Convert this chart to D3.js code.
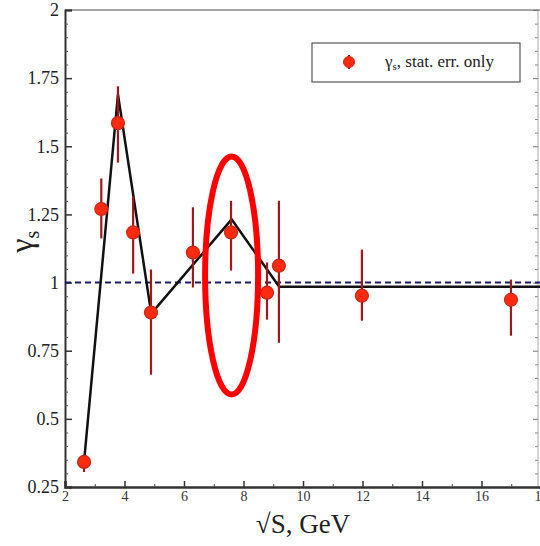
<!DOCTYPE html>
<html>
<head>
<meta charset="utf-8">
<script src="https://cdn.jsdelivr.net/npm/d3@7"></script>
<style>
  body { margin: 0; background: #fff; }
  svg { display: block; }
  svg text { font-family: "Liberation Serif", "DejaVu Serif", serif; }
</style>
</head>
<body>
<div id="chart"></div>
<script>
// measured points, sqrt(s) in GeV
var energies = [2.64, 3.22, 3.78, 4.29, 4.89, 6.3, 7.58, 8.79, 9.19, 11.98, 16.99];
var gammaS   = [0.342, 1.27, 1.585, 1.184, 0.89, 1.11, 1.184, 0.963, 1.062, 0.952, 0.937];
var errUpper = [0.364, 1.382, 1.72, 1.315, 1.048, 1.276, 1.30, 1.074, 1.30, 1.121, 1.011];
var errLower = [0.305, 1.162, 1.44, 1.033, 0.662, 0.982, 1.044, 0.864, 0.779, 0.86, 0.805];

// black model curve
var modelX = [2.64, 3.78, 4.9, 7.6, 9.2, 18];
var modelY = [0.342, 1.69, 0.886, 1.232, 0.985, 0.985];

var xTicks = [2, 4, 6, 8, 10, 12, 14, 16, 18];
var xMinor = [3, 5, 7, 9, 11, 13, 15, 17];
var yTicks = [0.25, 0.5, 0.75, 1, 1.25, 1.5, 1.75, 2];
var yTickLabels = ["0.25", "0.5", "0.75", "1", "1.25", "1.5", "1.75", "2"];

var W = 540, H = 546;
var margin = {top: 10, right: -1, bottom: 59, left: 65};

var svg = d3.select("#chart").append("svg")
    .attr("width", W).attr("height", H);

var x = d3.scaleLinear().domain([2, 18]).range([margin.left, W - margin.right]);
var y = d3.scaleLinear().domain([0.25, 2]).range([H - margin.bottom, margin.top]);

var yMinor = d3.range(0.25, 2.0001, 0.05).filter(function(v) {
  return Math.abs(v * 4 - Math.round(v * 4)) > 1e-6;
});

// frame
svg.append("line")
  .attr("x1", x(2)).attr("x2", x(18)).attr("y1", y(2)).attr("y2", y(2))
  .attr("stroke", "#888").attr("stroke-width", 1.5);
svg.append("line")
  .attr("x1", x(18) - 3).attr("x2", x(18) - 3).attr("y1", y(2)).attr("y2", y(0.25))
  .attr("stroke", "#aaa").attr("stroke-width", 1);

// right side ticks
svg.append("g")
  .attr("transform", "translate(" + (x(18) - 3) + ",0)")
  .call(d3.axisLeft(y).tickValues(yTicks).tickSize(5).tickFormat(""))
  .call(function(g) { g.select(".domain").remove(); g.selectAll("line").attr("stroke", "#777"); });
svg.append("g")
  .attr("transform", "translate(" + (x(18) - 3) + ",0)")
  .call(d3.axisLeft(y).tickValues(yMinor).tickSize(3).tickFormat(""))
  .call(function(g) { g.select(".domain").remove(); g.selectAll("line").attr("stroke", "#888"); });

// left axis
var yAxis = svg.append("g")
  .attr("transform", "translate(" + x(2) + ",0)")
  .call(d3.axisLeft(y).tickValues(yTicks).tickSize(-7).tickPadding(6)
    .tickFormat(function(d, i) { return yTickLabels[i]; }));
yAxis.attr("font-family", null);
yAxis.select(".domain").attr("stroke", "#333").attr("stroke-width", 2);
yAxis.selectAll("line").attr("stroke", "#333").attr("stroke-width", 1.5);
yAxis.selectAll("text").attr("font-size", 18).attr("fill", "#222");
svg.append("g")
  .attr("transform", "translate(" + x(2) + ",0)")
  .call(d3.axisLeft(y).tickValues(yMinor).tickSize(-3).tickFormat(""))
  .call(function(g) { g.select(".domain").remove(); g.selectAll("line").attr("stroke", "#555"); });

// bottom axis
var xAxis = svg.append("g")
  .attr("transform", "translate(0," + y(0.25) + ")")
  .call(d3.axisBottom(x).tickValues(xTicks).tickSize(-6).tickPadding(4).tickFormat(d3.format("d")));
xAxis.attr("font-family", null);
xAxis.select(".domain").attr("stroke", "#333").attr("stroke-width", 2.5);
xAxis.selectAll("line").attr("stroke", "#333").attr("stroke-width", 1.5);
xAxis.selectAll("text").attr("font-size", 14).attr("fill", "#333");
svg.append("g")
  .attr("transform", "translate(0," + y(0.25) + ")")
  .call(d3.axisBottom(x).tickValues(xMinor).tickSize(-3).tickFormat(""))
  .call(function(g) { g.select(".domain").remove(); g.selectAll("line").attr("stroke", "#444"); });

// dashed reference at 1
svg.append("line")
  .attr("x1", x(2)).attr("x2", x(18)).attr("y1", y(1)).attr("y2", y(1))
  .attr("stroke", "#1c1c66").attr("stroke-width", 2).attr("stroke-dasharray", "6,4");

// model line
var line = d3.line().x(function(d) { return x(d[0]); }).y(function(d) { return y(d[1]); });
svg.append("path")
  .datum(d3.zip(modelX, modelY))
  .attr("d", line)
  .attr("fill", "none").attr("stroke", "#111").attr("stroke-width", 2.5);

// error bars + points
var pts = energies.map(function(e, i) {
  return {x: e, y: gammaS[i], lo: errLower[i], hi: errUpper[i]};
});
svg.append("g").selectAll("line")
  .data(pts).enter().append("line")
  .attr("x1", function(d) { return x(d.x); }).attr("x2", function(d) { return x(d.x); })
  .attr("y1", function(d) { return y(d.lo); }).attr("y2", function(d) { return y(d.hi); })
  .attr("stroke", "#9e1a1a").attr("stroke-width", 2.2);
svg.append("g").selectAll("circle")
  .data(pts).enter().append("circle")
  .attr("cx", function(d) { return x(d.x); }).attr("cy", function(d) { return y(d.y); })
  .attr("r", 6.5)
  .attr("fill", "#ff2a10").attr("stroke", "#c8281a").attr("stroke-width", 1.2);

// highlight ellipse
svg.append("ellipse")
  .attr("cx", x(7.6)).attr("cy", y(1.026))
  .attr("rx", 26.5).attr("ry", 119)
  .attr("fill", "none").attr("stroke", "#ff0000").attr("stroke-width", 6);

// legend
var lg = svg.append("g");
lg.append("rect")
  .attr("x", 312).attr("y", 43).attr("width", 208).attr("height", 39)
  .attr("fill", "#fff").attr("stroke", "#555").attr("stroke-width", 1.2);
lg.append("line")
  .attr("x1", 349).attr("x2", 349).attr("y1", 55).attr("y2", 69)
  .attr("stroke", "#9e1a1a").attr("stroke-width", 2);
lg.append("circle")
  .attr("cx", 349).attr("cy", 62).attr("r", 5.5)
  .attr("fill", "#ff2a10").attr("stroke", "#c8281a");
var lt = lg.append("text")
  .attr("x", 385).attr("y", 67)
  .attr("font-size", 17).attr("fill", "#222");
lt.append("tspan").text("γ");
lt.append("tspan").attr("font-size", 11).attr("dy", 3).text("s");
lt.append("tspan").attr("dy", -3).text(", stat. err. only");

// axis titles
var yl = svg.append("text")
  .attr("transform", "translate(32," + y(1.15) + ") rotate(-90)")
  .attr("text-anchor", "middle")
  .attr("font-size", 32).attr("fill", "#222");
yl.append("tspan").text("γ");
yl.append("tspan").attr("font-size", 20).attr("dy", 7).text("s");

svg.append("text")
  .attr("x", 303).attr("y", 533)
  .attr("text-anchor", "middle")
  .attr("font-size", 27).attr("fill", "#222")
  .text("√S, GeV");
</script>
</body>
</html>
